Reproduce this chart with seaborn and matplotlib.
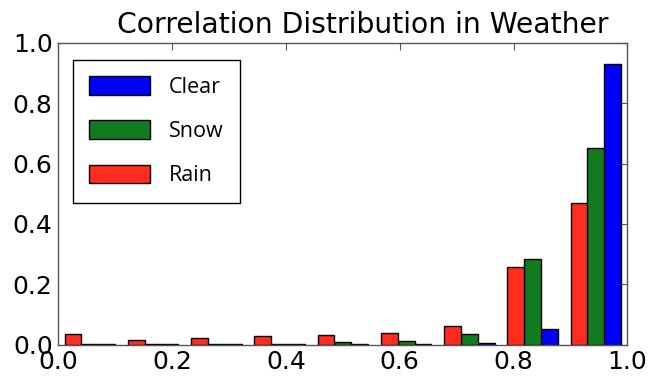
import numpy as np
import pandas as pd
import matplotlib
matplotlib.use("Agg")
import matplotlib.pyplot as plt
import seaborn as sns
from matplotlib.patches import Patch

# ---- data ----
bin_edges = list(np.linspace(0.0, 1.0, 10))          # 9 bins on [0, 1]
bin_centers = [(bin_edges[i] + bin_edges[i + 1]) / 2 for i in range(9)]
rain = [0.035, 0.015, 0.022, 0.029, 0.033, 0.037, 0.063, 0.257, 0.468]
snow = [0.003, 0.002, 0.002, 0.002, 0.007, 0.013, 0.034, 0.283, 0.650]
clear = [0.001, 0.001, 0.001, 0.001, 0.002, 0.002, 0.006, 0.052, 0.931]
series_names = ["Rain", "Snow", "Clear"]
legend_order = ["Clear", "Snow", "Rain"]
colors = {"Rain": "#ff2d20", "Snow": "#137b1f", "Clear": "#0000ff"}
x_ticks = [0.0, 0.2, 0.4, 0.6, 0.8, 1.0]
y_ticks = [0.0, 0.2, 0.4, 0.6, 0.8, 1.0]
title = "Correlation Distribution in Weather"

rows = []
for name, vals in zip(series_names, [rain, snow, clear]):
    for c, v in zip(bin_centers, vals):
        rows.append({"corr": c, "weight": v, "weather": name})
df = pd.DataFrame(rows)

sns.set_style("white")
plt.rcParams["font.family"] = ["DejaVu Sans"]
plt.rcParams["text.color"] = "black"
plt.rcParams["xtick.labelcolor"] = "black"
plt.rcParams["ytick.labelcolor"] = "black"

fig = plt.figure(figsize=(6.49, 3.79), dpi=100)
ax = fig.add_axes([0.0898, 0.091, 0.877, 0.796])

sns.histplot(data=df, x="corr", weights="weight", hue="weather",
             hue_order=series_names, palette=colors, bins=bin_edges,
             multiple="dodge", shrink=0.8, alpha=1.0, edgecolor="black",
             linewidth=1.0, legend=False, ax=ax)

ax.set_xlim(0, 1)
ax.set_ylim(0, 1)
ax.set_xticks(x_ticks)
ax.set_yticks(y_ticks)
ax.set_xticklabels([f"{t:.1f}" for t in x_ticks])
ax.set_yticklabels([f"{t:.1f}" for t in y_ticks])
ax.set_xlabel("")
ax.set_ylabel("")
ax.tick_params(axis="both", which="major", direction="in", length=5,
               width=0.8, color="#555555", labelsize=18, labelcolor="black",
               top=True, right=True, pad=4)
for s in ax.spines.values():
    s.set_visible(True)
    s.set_color("#555555")
    s.set_linewidth(1.0)

ax.set_title(title, fontsize=20.3, x=0.535, pad=7, color="black")

handles = [Patch(facecolor=colors[n], edgecolor="black", linewidth=1.0, label=n)
           for n in legend_order]
leg = ax.legend(handles=handles, loc="upper left",
                bbox_to_anchor=(0.0263, 0.943), borderaxespad=0,
                prop={"family": "Open Sans", "size": 15.5},
                handlelength=2.8, handleheight=0.95, handletextpad=0.9,
                labelspacing=1.05, borderpad=0.75, fancybox=False,
                framealpha=1, edgecolor="black")
leg.get_frame().set_linewidth(1.0)
for t in leg.get_texts():
    t.set_color("black")

fig.savefig("out.png", dpi=100)
